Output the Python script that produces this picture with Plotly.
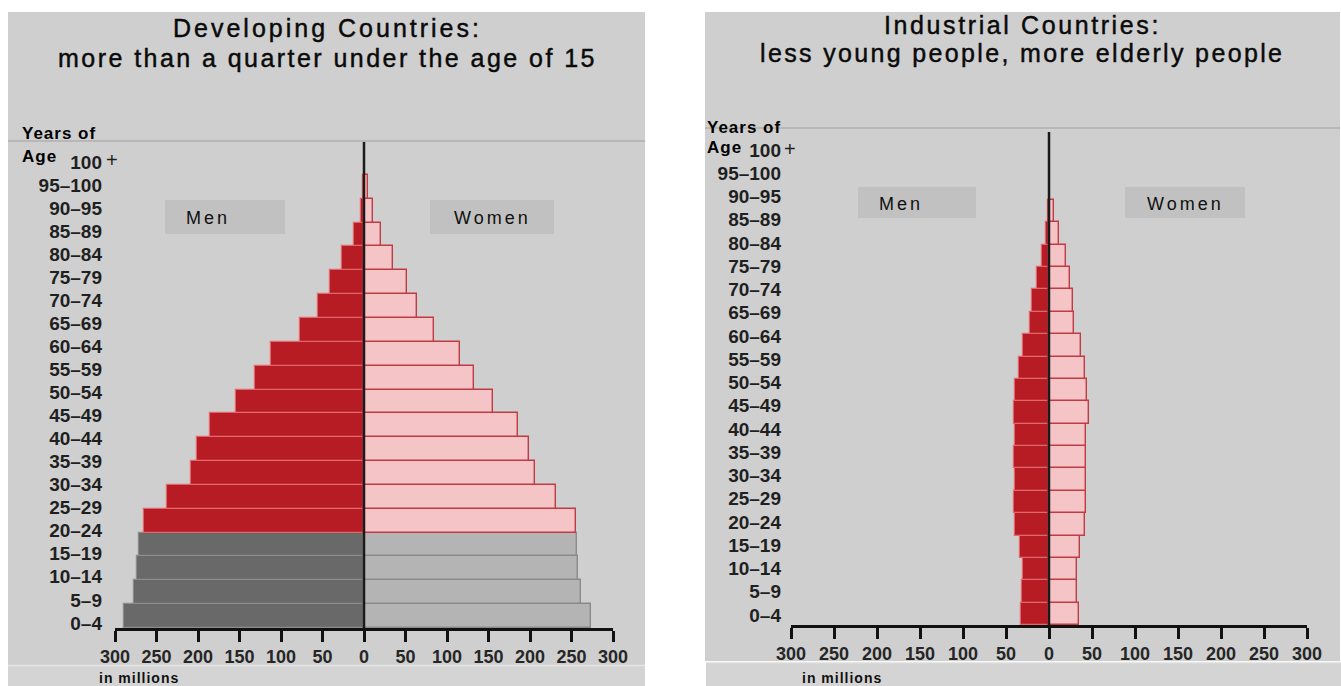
import plotly.graph_objects as go

# ---------------- data ----------------
ages = ["0–4", "5–9", "10–14", "15–19", "20–24", "25–29", "30–34", "35–39",
        "40–44", "45–49", "50–54", "55–59", "60–64", "65–69", "70–74",
        "75–79", "80–84", "85–89", "90–95", "95–100", "100+"]
age_ticktext = ["0–4", "5–9", "10–14", "15–19", "20–24", "25–29", "30–34", "35–39",
                "40–44", "45–49", "50–54", "55–59", "60–64", "65–69", "70–74",
                "75–79", "80–84", "85–89", "90–95", "95–100", "100"]
bar_ages = ages[:19]

dev_men = [289, 277, 274, 271, 265, 237, 209, 201, 186, 154, 131, 112, 77, 55, 41, 26, 12, 4, 1]
dev_women = [273, 261, 258, 257, 255, 231, 206, 199, 185, 156, 132, 116, 84, 64, 52, 35, 21, 11, 5]
dev_young_ages = ["0–4", "5–9", "10–14", "15–19"]

ind_men = [32, 31, 30, 34, 40, 41, 40, 41, 40, 41, 39, 35, 30, 22, 20, 14, 8, 3, 1]
ind_women = [35, 32, 33, 36, 42, 43, 43, 43, 43, 46, 44, 42, 37, 29, 28, 24, 20, 12, 6]
ind_young_ages = []

x_ticks = [-300, -250, -200, -150, -100, -50, 0, 50, 100, 150, 200, 250, 300]
x_ticktext = [str(abs(v)) for v in x_ticks]

titles = [("Developing Countries:", "more than a quarter under the age of 15"),
          ("Industrial Countries:", "less young people, more elderly people")]

# ---------------- styles ----------------
W, H = 1341, 686
FONT = "Liberation Sans"
RED_M, RED_M_LINE = "#b71c24", "#e2676c"
PINK_W, PINK_W_LINE = "#f4c4c7", "#c23a44"
GRAY_M, GRAY_M_LINE = "#696969", "#8c8c8c"
GRAY_W, GRAY_W_LINE = "#b4b4b4", "#8a8a8a"
BG, BOX, STRIP = "#cfcfcf", "#c1c1c1", "#d4d4d4"


def px(x):
    return x / W


def py(y):
    return 1 - y / H


def ls(text, spacing, extra=""):
    return f'<span style="letter-spacing:{spacing}px;{extra}">{text}</span>'


fig = go.Figure()


def add_panel(men, women, young, xa, ya, ya_lab):
    men_c = [GRAY_M if a in young else RED_M for a in bar_ages]
    men_l = [GRAY_M_LINE if a in young else RED_M_LINE for a in bar_ages]
    wom_c = [GRAY_W if a in young else PINK_W for a in bar_ages]
    wom_l = [GRAY_W_LINE if a in young else PINK_W_LINE for a in bar_ages]
    fig.add_trace(go.Bar(y=bar_ages, x=[-v for v in men], orientation="h",
                         marker=dict(color=men_c, line=dict(color=men_l, width=1.2)),
                         xaxis=xa, yaxis=ya, showlegend=False, hoverinfo="skip"))
    fig.add_trace(go.Bar(y=bar_ages, x=women, orientation="h",
                         marker=dict(color=wom_c, line=dict(color=wom_l, width=1.4)),
                         xaxis=xa, yaxis=ya, showlegend=False, hoverinfo="skip"))
    # invisible helper so the age-label axis gets drawn
    fig.add_trace(go.Scatter(y=ages, x=[0] * len(ages), mode="markers",
                             marker=dict(opacity=0, size=1),
                             xaxis=xa, yaxis=ya_lab, showlegend=False, hoverinfo="skip"))


add_panel(dev_men, dev_women, dev_young_ages, "x", "y", "y3")
add_panel(ind_men, ind_women, ind_young_ages, "x2", "y2", "y4")

xax_common = dict(range=[-300, 300], tickmode="array", tickvals=x_ticks, ticktext=x_ticktext,
                  showline=True, linecolor="#111111", linewidth=2.5,
                  ticks="outside", ticklen=11, tickwidth=2.5, tickcolor="#111111",
                  showgrid=False, zeroline=False, fixedrange=True, automargin=False,
                  tickfont=dict(family=FONT, size=18, color="#262626", weight="bold"))
ybar_common = dict(type="category", categoryorder="array", categoryarray=bar_ages,
                   showticklabels=False, showgrid=False, zeroline=False, showline=False,
                   ticks="", fixedrange=True, automargin=False)
ylab_common = dict(type="category", categoryorder="array", categoryarray=ages,
                   tickmode="array", tickvals=ages, ticktext=age_ticktext,
                   showgrid=False, zeroline=False, showline=False, ticks="", side="left",
                   fixedrange=True, automargin=False,
                   tickfont=dict(family=FONT, size=19, color="#1f1f1f", weight="bold"))

fig.update_layout(
    width=W, height=H, autosize=False,
    margin=dict(l=0, r=0, t=0, b=0, pad=0),
    paper_bgcolor="white", plot_bgcolor="rgba(0,0,0,0)",
    barmode="overlay", bargap=0,
    font=dict(family=FONT, color="#111111"),
    xaxis=dict(domain=[px(115), px(613)], anchor="y", **xax_common),
    yaxis=dict(domain=[py(628), py(142)], anchor="x", range=[-0.5, 19.88], **ybar_common),
    yaxis3=dict(overlaying="y", anchor="x", range=[-0.22, 20.87], ticklabelstandoff=12,
                **ylab_common),
    xaxis2=dict(domain=[px(791), px(1307)], anchor="y2", **xax_common),
    yaxis2=dict(domain=[py(625), py(132)], anchor="x2", range=[-0.5, 21.54], **ybar_common),
    yaxis4=dict(overlaying="y2", anchor="x2", range=[-0.43, 20.77], ticklabelstandoff=9,
                **ylab_common),
)

shapes = []
# panel backgrounds
for (x0, x1, y0, y1, c) in [(8, 645, 12, 665, BG), (8, 645, 665, 686, STRIP),
                            (705, 1340, 12, 661, BG), (706, 1341, 662, 686, STRIP)]:
    shapes.append(dict(type="rect", xref="paper", yref="paper", layer="below",
                       x0=px(x0), x1=px(x1), y0=py(y1), y1=py(y0),
                       fillcolor=c, line=dict(width=0)))
# separator lines
for (x0, x1, y) in [(8, 645, 141), (705, 1340, 128)]:
    shapes.append(dict(type="line", xref="paper", yref="paper", layer="below",
                       x0=px(x0), x1=px(x1), y0=py(y), y1=py(y),
                       line=dict(color="#b7b7b7", width=2)))
for (x0, x1, y) in [(8, 645, 665.5), (706, 1341, 662.5)]:
    shapes.append(dict(type="line", xref="paper", yref="paper", layer="below",
                       x0=px(x0), x1=px(x1), y0=py(y), y1=py(y),
                       line=dict(color="#e6e6e6", width=1.5)))
# Men / Women boxes
for (x0, x1, y0, y1) in [(165, 285, 200, 234), (430, 554, 200, 234),
                         (858, 976, 187, 218), (1125, 1245, 187, 218)]:
    shapes.append(dict(type="rect", xref="paper", yref="paper", layer="below",
                       x0=px(x0), x1=px(x1), y0=py(y1), y1=py(y0),
                       fillcolor=BOX, line=dict(width=0)))
# centre lines at zero
for xa, ya in [("x", "y"), ("x2", "y2")]:
    shapes.append(dict(type="line", xref=xa, yref=f"{ya} domain", x0=0, x1=0, y0=0, y1=1,
                       line=dict(color="#1a1a1a", width=2.5)))
fig.update_layout(shapes=shapes)

ann = []
# titles (one annotation per line)
stroke = "stroke:#0a0a0a;stroke-width:0.45px"
for (t1, t2), cx, y1, y2, s1, s2 in [(titles[0], 327, 28, 58, 3.0, 2.45),
                                     (titles[1], 1022, 25, 53, 2.6, 2.35)]:
    for t, yy, s in [(t1, y1, s1), (t2, y2, s2)]:
        ann.append(dict(xref="paper", yref="paper", x=px(cx), y=py(yy), xanchor="center",
                        yanchor="middle", showarrow=False, align="center",
                        text=ls(t, s, stroke),
                        font=dict(family=FONT, size=25, color="#0a0a0a")))
# Men / Women text
for txt, cx, cy in [("Men", 208, 218), ("Women", 492, 218), ("Men", 901, 204), ("Women", 1185, 204)]:
    ann.append(dict(xref="paper", yref="paper", x=px(cx), y=py(cy), xanchor="center",
                    yanchor="middle", showarrow=False, text=ls(txt, 3.0),
                    font=dict(family=FONT, size=18, color="#101010")))
# Years of / Age
for txt, x, y in [("Years of", 20, 134), ("Age", 20, 157), ("Years of", 705, 128), ("Age", 705, 148)]:
    ann.append(dict(xref="paper", yref="paper", x=px(x), y=py(y), xanchor="left",
                    yanchor="middle", showarrow=False, text=ls(f"<b>{txt}</b>", 1.0),
                    font=dict(family=FONT, size=17, color="#000000")))
# "+" after 100
for x, y in [(112, 160), (790, 149)]:
    ann.append(dict(xref="paper", yref="paper", x=px(x), y=py(y), xanchor="center",
                    yanchor="middle", showarrow=False, text="+",
                    font=dict(family=FONT, size=20, color="#1f1f1f")))
# in millions
for x in [97, 800]:
    ann.append(dict(xref="paper", yref="paper", x=px(x), y=py(678), xanchor="left",
                    yanchor="middle", showarrow=False, text=ls("<b>in millions</b>", 1.0),
                    font=dict(family=FONT, size=14, color="#111111")))
fig.update_layout(annotations=ann)

fig.write_html("out.html", post_script="document.body.style.margin='0';",
               config={"displayModeBar": False})
